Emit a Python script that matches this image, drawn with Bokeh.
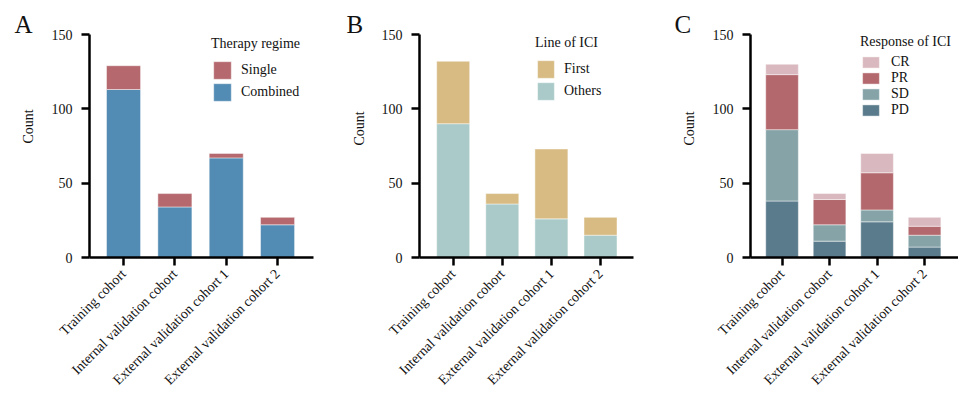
import math
from bokeh.plotting import figure
from bokeh.models import ColumnDataSource, Range1d, FixedTicker, Legend, LegendItem, Title
from bokeh.layouts import row
from bokeh.embed import file_html
from bokeh.resources import INLINE

# ---- data ----
cohorts = ["Training cohort", "Internal validation cohort",
           "External validation cohort 1", "External validation cohort 2"]
x_pos = [0, 1, 2, 3]
y_ticks = [0, 50, 100, 150]

a_combined = [113, 34, 67, 22]
a_single = [16, 9, 3, 5]

b_others = [90, 36, 26, 15]
b_first = [42, 7, 47, 12]

c_pd = [38, 11, 24, 7]
c_sd = [48, 11, 8, 8]
c_pr = [37, 17, 25, 6]
c_cr = [7, 4, 13, 6]

FONT = "Liberation Serif"
TXT = "#111111"


def panel(letter, stack_names, stack_values, colors, legend_labels, legend_title,
          width, b_left, b_right, b_top, b_bottom, xr, bar_w,
          leg_loc, glyph_w, glyph_h, leg_standoff, leg_spacing, title_standoff,
          letter_offset, count_standoff, count_offset):
    data = {"x": x_pos}
    for n, v in zip(stack_names, stack_values):
        data[n] = v
    src = ColumnDataSource(data)
    p = figure(width=width, height=396, output_backend="svg", toolbar_location=None,
               x_range=Range1d(*xr), y_range=Range1d(0, 150),
               min_border_left=b_left, min_border_right=b_right,
               min_border_top=b_top, min_border_bottom=b_bottom)
    p.outline_line_color = None
    p.xgrid.visible = False
    p.ygrid.visible = False
    p.background_fill_color = "white"
    p.border_fill_color = "white"

    # panel letter as the plot title, shifted left over the axis area
    p.title.text = letter
    p.title.align = "left"
    p.title.offset = letter_offset
    p.title.standoff = -6
    p.title.text_font = FONT
    p.title.text_font_size = "25px"
    p.title.text_font_style = "normal"
    p.title.text_color = TXT

    rs = p.vbar_stack(stack_names, x="x", width=bar_w, color=colors, source=src,
                      line_color="white", line_alpha=0.45, line_width=1)

    for ax in (p.xaxis[0], p.yaxis[0]):
        ax.axis_line_width = 2.5
        ax.axis_line_color = "black"
        ax.major_tick_line_width = 2.5
        ax.major_tick_line_color = "black"
        ax.major_tick_in = 0
        ax.major_tick_out = 8
        ax.minor_tick_line_color = None
        ax.major_label_text_font = FONT
        ax.major_label_text_font_size = "14px"
        ax.major_label_text_color = TXT

    p.yaxis.ticker = FixedTicker(ticks=y_ticks)
    p.yaxis.major_label_standoff = 9
    p.xaxis.ticker = FixedTicker(ticks=x_pos)
    p.xaxis.major_label_overrides = {i: c for i, c in zip(x_pos, cohorts)}
    p.xaxis.major_label_orientation = math.pi / 4
    p.xaxis.major_label_standoff = 6

    # "Count" y label as a side title, placed a bit above the frame centre
    p.add_layout(Title(text="Count", align="left", offset=count_offset,
                       standoff=count_standoff,
                       text_font=FONT, text_font_size="14px", text_font_style="normal",
                       text_color=TXT), "left")

    items = [LegendItem(label=lab, renderers=[r]) for lab, r in zip(legend_labels, rs)]
    items = items[::-1]
    leg = Legend(items=items, location=leg_loc, title=legend_title,
                 title_text_font=FONT, title_text_font_size="14px",
                 title_text_font_style="normal", title_text_color=TXT,
                 title_standoff=title_standoff,
                 label_text_font=FONT, label_text_font_size="14px",
                 label_text_color=TXT,
                 glyph_width=glyph_w, glyph_height=glyph_h, label_height=glyph_h,
                 label_standoff=leg_standoff, spacing=leg_spacing,
                 padding=0, margin=0, border_line_color=None,
                 background_fill_alpha=0)
    p.add_layout(leg)
    return p


pA = panel("A", ["combined", "single"], [a_combined, a_single],
           ["#528bb3", "#b5696e"], ["Combined", "Single"], "Therapy regime",
           330, 89, 17, 34, 139, (-0.663, 3.70), 0.663,
           (122, 154), 22, 22, 8, 0, 7,
           -75, 26, 114)

pB = panel("B", ["others", "first"], [b_others, b_first],
           ["#a9cac8", "#d7bb83"], ["Others", "First"], "Line of ICI",
           330, 89, 27, 34, 139, (-0.686, 3.672), 0.672,
           (116, 155), 21, 22, 8, 0, 7,
           -73, 24, 112)

pC = panel("C", ["pd", "sd", "pr", "cr"], [c_pd, c_sd, c_pr, c_cr],
           ["#5a7b8b", "#86a4a8", "#b3686d", "#d9b9bf"], ["PD", "SD", "PR", "CR"],
           "Response of ICI",
           298, 90, 0, 34, 139, (-0.664, 3.714), 0.687,
           (110, 139), 21, 14, 10, 0, 4,
           -76, 26, 112)

layout = row(pA, pB, pC, spacing=0)
open("out.html", "w").write(file_html(layout, INLINE))
